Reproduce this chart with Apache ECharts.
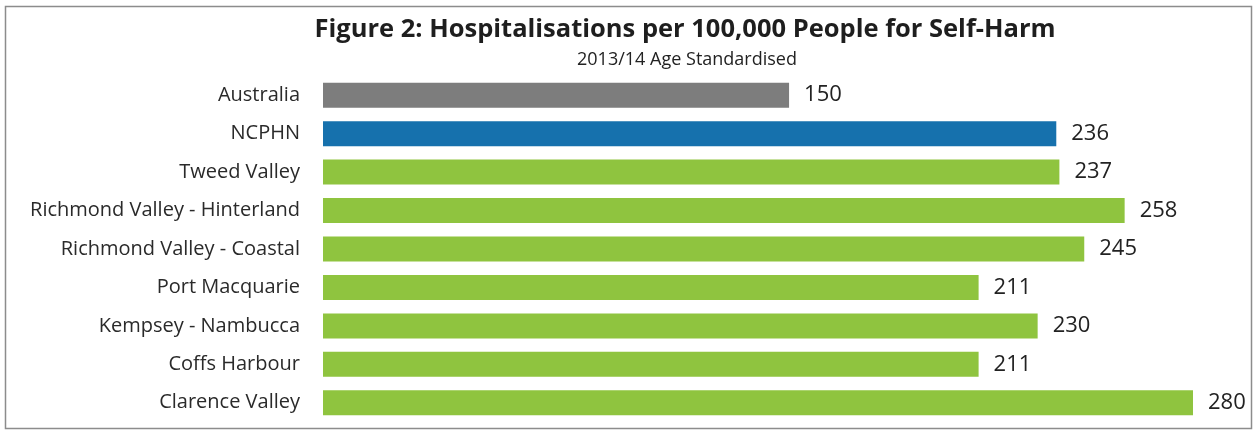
<!DOCTYPE html>
<html>
<head>
<meta charset="utf-8">
<script src="https://cdn.jsdelivr.net/npm/echarts@6/dist/echarts.min.js"></script>
<style>
  html, body { margin: 0; padding: 0; background: #fff; }
</style>
</head>
<body>
<div id="main" style="width:1255px;height:432px;"></div>
<script>
// regions, top to bottom
const regions = ['Australia', 'NCPHN', 'Tweed Valley', 'Richmond Valley - Hinterland',
  'Richmond Valley - Coastal', 'Port Macquarie', 'Kempsey - Nambucca', 'Coffs Harbour', 'Clarence Valley']
// hospitalisations per 100,000
const rates = [150, 236, 237, 258, 245, 211, 230, 211, 280]
const barColors = ['#7d7d7d', '#1671ad', '#8fc43f', '#8fc43f', '#8fc43f', '#8fc43f', '#8fc43f', '#8fc43f', '#8fc43f']

const font = '"Open Sans", "Noto Sans", sans-serif'

let myChart = echarts.init(document.getElementById('main'))
let option = {
  backgroundColor: '#fff',
  animation: false,
  graphic: [
    {
      type: 'rect',
      shape: { x: 5.5, y: 6.5, width: 1246, height: 422 },
      style: { fill: 'none', stroke: '#8c8c8c', lineWidth: 1.5 }
    },
    {
      type: 'text',
      x: 685, y: 30,
      style: {
        text: 'Figure 2: Hospitalisations per 100,000 People for Self-Harm',
        font: 'bold 25.5px ' + font,
        fill: '#1e1e1e',
        textAlign: 'center',
        textVerticalAlign: 'middle'
      }
    },
    {
      type: 'text',
      x: 687, y: 60,
      style: {
        text: '2013/14 Age Standardised',
        font: '18px ' + font,
        fill: '#222',
        textAlign: 'center',
        textVerticalAlign: 'middle'
      }
    }
  ],
  grid: {
    left: 323,
    right: 62,
    top: 76,
    bottom: 10,
    containLabel: false
  },
  xAxis: {
    type: 'value',
    min: 0,
    max: 280,
    show: false
  },
  yAxis: {
    type: 'category',
    inverse: true,
    data: regions,
    axisLine: { show: false },
    axisTick: { show: false },
    axisLabel: {
      margin: 23,
      fontSize: 20,
      fontFamily: font,
      color: '#2a2a2a'
    }
  },
  series: [
    {
      type: 'bar',
      barWidth: 25,
      data: rates.map((v, i) => ({ value: v, itemStyle: { color: barColors[i] } })),
      label: {
        show: true,
        position: 'right',
        distance: 15,
        fontSize: 22,
        fontFamily: font,
        color: '#222'
      }
    }
  ]
}
myChart.setOption(option)
</script>
</body>
</html>
